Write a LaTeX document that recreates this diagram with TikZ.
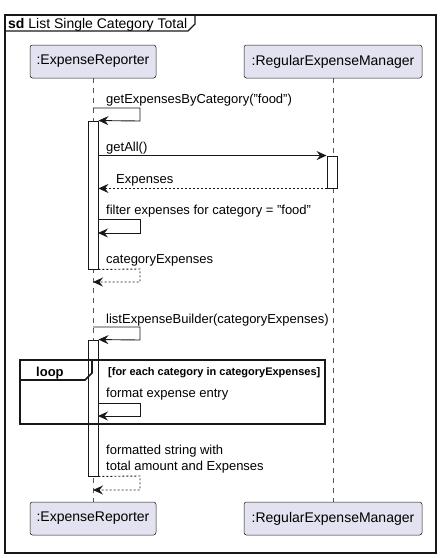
\documentclass[tikz,border=0pt]{standalone}
\usepackage{fontspec}
\setmainfont{Liberation Sans}
\usetikzlibrary{arrows.meta}
\definecolor{partfill}{HTML}{E2E2F0}
\definecolor{ink}{HTML}{181818}
\definecolor{lifegrey}{HTML}{555555}
\tikzset{
  part/.style={draw=ink, line width=0.5pt, fill=partfill, rounded corners=2.5pt,
    minimum height=33pt, inner sep=0pt, font=\fontsize{14}{16}\selectfont},
  life/.style={draw=lifegrey, line width=0.5pt, dash pattern=on 5pt off 5pt},
  actbar/.style={draw=ink, fill=white, line width=0.9pt, inner sep=0pt, minimum width=10pt},
  msg/.style={draw=ink, line width=0.9pt, -{Stealth[length=10pt,width=9pt,inset=3.5pt]}},
  ret/.style={msg, dash pattern=on 2pt off 2pt},
  lbl/.style={font=\fontsize{13}{15}\selectfont, anchor=base west, inner sep=0pt, text=black},
  frameline/.style={draw=ink, line width=1.1pt},
  loopline/.style={draw=ink, line width=1.6pt},
}
\begin{document}
\begin{tikzpicture}[x=1pt,y=-1pt]
\useasboundingbox (0,0) rectangle (442,558);
% outer frame
\draw[frameline] (5,15) rectangle (436,553);
\draw[frameline] (5,31) -- (188,31) -- (195,24) -- (195,15);
\node[lbl, font=\fontsize{14}{16}\selectfont] (title) at (8,28) {\textbf{sd} List Single Category Total};
% participants
\node[part, minimum width=126pt] (erT) at (93,61.5) {:ExpenseReporter};
\node[part, minimum width=178pt] (rmT) at (333,61.5) {:RegularExpenseManager};
\node[part, minimum width=126pt] (erB) at (93,518.5) {:ExpenseReporter};
\node[part, minimum width=178pt] (rmB) at (333,518.5) {:RegularExpenseManager};
\draw[life] (erT.south) -- (erB.north);
\draw[life] (rmT.south) -- (rmB.north);
% activation bars
\node[actbar, minimum height=148pt] (act1) at (93,195) {};
\node[actbar, minimum height=32pt] (act2) at (332,172) {};
\node[actbar, minimum height=136pt] (act3) at (93,408) {};
% message 1
\node[lbl] (m1) at (106,103) {getExpensesByCategory("food")};
\coordinate (m1a) at (93,108);
\coordinate (m1b) at (140,108);
\coordinate (m1c) at (140,121);
\coordinate (m1d) at (act1.north east);
\draw[msg] (m1a) -- (m1b) -- (m1c) -- (m1d);
% message 2
\node[lbl] (m2) at (106,151) {getAll()};
\draw[msg] (act1.east |- act2.north) -- (act2.north west);
% return 2
\node[lbl] (m3) at (116,183) {Expenses};
\draw[ret] (act2.south west) -- (act1.east |- act2.south);
% message 4
\node[lbl] (m4) at (106,214) {filter expenses for category = "food"};
\coordinate (m4a) at (98,219);
\coordinate (m4b) at (140,219);
\coordinate (m4c) at (140,233);
\coordinate (m4d) at (98,233);
\draw[msg] (m4a) -- (m4b) -- (m4c) -- (m4d);
% return 5
\node[lbl] (m5) at (106,263) {categoryExpenses};
\coordinate (m5b) at (140,269);
\coordinate (m5c) at (140,282);
\coordinate (m5d) at (93,282);
\draw[ret] (act1.south east) -- (m5b) -- (m5c) -- (m5d);
% message 6
\node[lbl] (m6) at (106,323) {listExpenseBuilder(categoryExpenses)};
\coordinate (m6a) at (93,327);
\coordinate (m6b) at (140,327);
\coordinate (m6c) at (140,340);
\draw[msg] (m6a) -- (m6b) -- (m6c) -- (act3.north east);
% loop
\draw[loopline] (20,360) rectangle (325,424);
\draw[loopline] (20,380) -- (85,380) -- (92,373) -- (92,360);
\node[lbl, font=\fontsize{13}{15}\selectfont\bfseries] (looplbl) at (36,376) {loop};
\node[lbl, font=\fontsize{11}{13}\selectfont\bfseries] (guard) at (108,375) {[for each category in categoryExpenses]};
\node[lbl] (m7) at (106,397) {format expense entry};
\coordinate (m7a) at (98,403);
\coordinate (m7b) at (140,403);
\coordinate (m7c) at (140,416);
\coordinate (m7d) at (98,416);
\draw[msg] (m7a) -- (m7b) -- (m7c) -- (m7d);
% return 8
\node[lbl] (m8) at (106,454) {formatted string with};
\node[lbl] (m8b) at (106,470) {total amount and Expenses};
\coordinate (m8b1) at (140,476);
\coordinate (m8c) at (140,490);
\coordinate (m8d) at (93,490);
\draw[ret] (act3.south east) -- (m8b1) -- (m8c) -- (m8d);
\end{tikzpicture}
\end{document}
